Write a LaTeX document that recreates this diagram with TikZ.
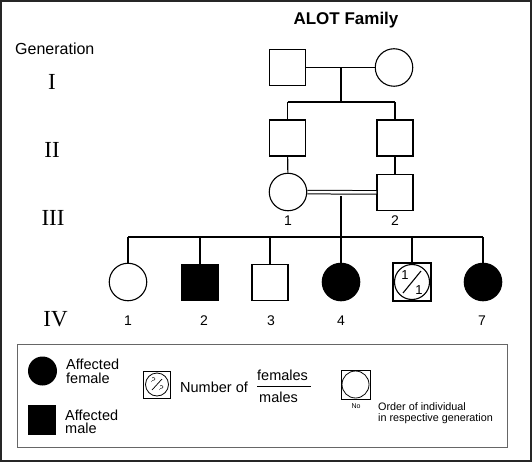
\documentclass[tikz,border=0pt]{standalone}
\usepackage{fontspec}
\setmainfont{Liberation Sans}
\newfontfamily\romfont{Liberation Serif}
\begin{document}
\begin{tikzpicture}[x=1pt,y=-1pt,
  ln/.style={line width=1.1pt},
  male/.style={draw,rectangle,line width=1.1pt,minimum size=36pt,inner sep=0pt},
  female/.style={draw,circle,line width=1.1pt,minimum size=37.5pt,inner sep=0pt},
  aff/.style={fill=black},
  lab/.style={font=\fontsize{14}{14}\selectfont,inner sep=0pt},
  gen/.style={font=\fontsize{23}{23}\romfont,inner sep=0pt},
  leg/.style={font=\fontsize{14.5}{13.5}\selectfont,inner sep=0pt,align=left,anchor=west},
  small/.style={font=\fontsize{10.8}{11}\selectfont,inner sep=0pt,align=left,anchor=west}]
\useasboundingbox (0,0) rectangle (532,462);
\draw[line width=2pt,draw=black!85] (1,1) rectangle (531,461);
\node[font=\fontsize{17}{17}\bfseries,inner sep=0pt] (title) at (346,20) {ALOT Family};
\node[font=\fontsize{16}{16}\selectfont,inner sep=0pt,anchor=west] (genlab) at (15,49) {Generation};
\node[gen] (gI) at (52,82) {I};
\node[gen] (gII) at (52,150) {II};
\node[gen] (gIII) at (53,218) {III};
\node[gen] (gIV) at (55.5,319.5) {IV};
% generation I
\node[male] (I1) at (287.5,67.5) {};
\node[female] (I2) at (394,67.5) {};
\draw[ln] (I1) -- (I2);
\coordinate (m1) at (341,67.5);
\coordinate (s1) at (341,102);
\coordinate (s1L) at (287.5,102);
\coordinate (s1R) at (395,102);
\draw[ln] (m1) -- (s1);
\draw[ln] (s1L) -- (s1R);
% generation II
\node[male] (II1) at (287.5,138) {};
\node[male] (II2) at (395,138) {};
\draw[ln] (s1L) -- (II1);
\draw[ln] (s1R) -- (II2);
% generation III
\node[female] (III1) at (288,192) {};
\node[male] (III2) at (395,192.5) {};
\draw[ln] (II1) -- (III1);
\draw[ln] (II2) -- (III2);
\draw[line width=1pt,double,double distance=2.6pt] (III1) -- (III2);
\node[lab] (l31) at (288,221) {1};
\node[lab] (l32) at (395,221) {2};
\coordinate (m2) at (341,196.5);
\coordinate (s2) at (341,237);
\coordinate (s2L) at (128,237);
\coordinate (s2R) at (483,237);
\draw[ln] (m2) -- (s2);
\draw[ln] (s2L) -- (s2R);
% generation IV
\node[female] (IV1) at (128,282) {};
\node[male,aff] (IV2) at (200,282.5) {};
\node[male] (IV3) at (270,282.5) {};
\node[female,aff] (IV4) at (341,282) {};
\node[male,minimum size=38pt] (IV5) at (412,282) {};
\node[female,minimum size=35pt] (IV5c) at (412,282) {};
\node[female,aff] (IV7) at (483,282) {};
\coordinate (c1) at (128,237);
\coordinate (c2) at (200,237);
\coordinate (c3) at (270,237);
\coordinate (c5) at (412,237);
\draw[ln] (c1) -- (IV1);
\draw[ln] (c2) -- (IV2);
\draw[ln] (c3) -- (IV3);
\draw[ln] (s2) -- (IV4);
\draw[ln] (c5) -- (IV5);
\draw[ln] (s2R) -- (IV7);
\node[font=\fontsize{13}{13}\selectfont,inner sep=0pt] (n5a) at (405,275) {1};
\node[font=\fontsize{13}{13}\selectfont,inner sep=0pt] (n5b) at (419,290) {1};
\coordinate (sl1) at (403,293);
\coordinate (sl2) at (421,271);
\draw[line width=1.1pt] (sl1) -- (sl2);
\node[lab] (l41) at (128,320.5) {1};
\node[lab] (l42) at (204,320.5) {2};
\node[lab] (l43) at (271,320.5) {3};
\node[lab] (l44) at (341,320.5) {4};
\node[lab] (l47) at (482,320.5) {7};
% legend
\draw[line width=0.8pt,draw=black!60] (17,344) rectangle (507,447);
\node[circle,fill=black,minimum size=29pt,inner sep=0pt] (lf) at (42.5,371) {};
\node[leg] (lft) at (66,371.5) {Affected\\female};
\node[rectangle,fill=black,minimum width=28pt,minimum height=30pt,inner sep=0pt] (lm) at (42,420) {};
\node[leg] (lmt) at (65,422) {Affected\\male};
\node[draw,rectangle,line width=0.8pt,minimum size=27pt,inner sep=0pt] (lq) at (157,384.5) {};
\node[draw,circle,line width=0.8pt,minimum size=23pt,inner sep=0pt] (lqc) at (157,384.5) {};
\node[font=\fontsize{7.5}{7.5}\selectfont,inner sep=0pt,rotate=-30] (q1) at (153,380.5) {?};
\node[font=\fontsize{7.5}{7.5}\selectfont,inner sep=0pt,rotate=-30] (q2) at (161,388.5) {?};
\coordinate (qs1) at (152,390);
\coordinate (qs2) at (162,379);
\draw[line width=0.7pt] (qs1) -- (qs2);
\node[leg] (numof) at (180,387) {Number of};
\node[leg] (fem) at (257,375) {females};
\node[leg] (mal) at (259,397) {males};
\coordinate (bar1) at (257,386);
\coordinate (bar2) at (311,386);
\draw[line width=0.8pt] (bar1) -- (bar2);
\node[draw,rectangle,line width=0.8pt,minimum size=29pt,inner sep=0pt] (lo) at (355.5,384.5) {};
\node[draw,circle,line width=0.8pt,minimum size=27pt,inner sep=0pt] (loc) at (355.5,384.5) {};
\node[font=\fontsize{7}{7}\selectfont,inner sep=0pt] (no) at (356,406) {No};
\node[small] (ord1) at (378,407) {Order of individual};
\node[small] (ord2) at (378,418.5) {in respective generation};
\end{tikzpicture}
\end{document}
